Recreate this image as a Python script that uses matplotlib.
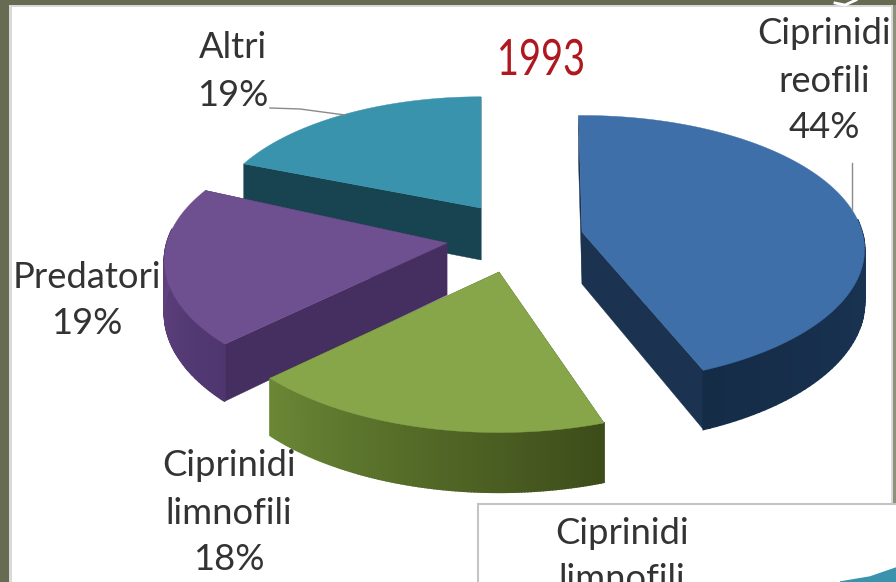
import numpy as np
import matplotlib
matplotlib.use("Agg")
import matplotlib.pyplot as plt
import matplotlib.patheffects as pe
from matplotlib.patches import Polygon, Rectangle
from matplotlib.colors import to_rgb
from matplotlib.transforms import Affine2D

# ---- data ----
categories = ["Ciprinidi\nreofili", "Ciprinidi\nlimnofili", "Predatori", "Altri"]
shares = [44, 18, 19, 19]
title = "1993"

# ---- style ----
top_colors = ["#3f6fa8", "#86a649", "#6e4f8f", "#3a93ad"]
radial_colors = ["#1b3350", "#3f5020", "#452f60", "#184452"]
rim_start = ["#1f4066", "#3d4c1a", "#4f366f", "#1f5566"]
rim_end = ["#152c47", "#6a8735", "#674888", "#1f5566"]
apex = [(582, 232), (499, 272), (447, 243), (481, 208)]
turn_deg = [-0.8, 3.0, 3.0, 0.0]
scale_x = [0.99, 1.02, 0.99, 0.945]
scale_y = [0.99, 1.05, 1.0, 0.945]
A, B, K, D = 283.0, 133.0, 0.13, 52.0
BG = "#666b52"


class XSqueeze(pe.AbstractPathEffect):
    """Squeeze a text horizontally about a pixel column."""

    def __init__(self, cx, factor):
        super().__init__()
        self.cx, self.factor = cx, factor

    def draw_path(self, renderer, gc, tpath, affine, rgbFace=None):
        aff = affine + Affine2D().translate(-self.cx, 0).scale(self.factor, 1).translate(self.cx, 0)
        renderer.draw_path(gc, tpath, aff, rgbFace)


fig = plt.figure(figsize=(8.96, 5.82), dpi=100, facecolor=BG)
ax = fig.add_axes([0, 0, 1, 1])
ax.set_xlim(0, 896)
ax.set_ylim(582, 0)
ax.axis("off")

# frame and panels
ax.add_patch(Rectangle((0, 0), 896, 582, fc=BG, ec="none", zorder=0))
ax.add_patch(Rectangle((9, 5), 884, 590, fc="#d9d9d9", ec="none", zorder=1))
ax.add_patch(Rectangle((12, 7), 879, 590, fc="white", ec="none", zorder=1))
ax.add_patch(Rectangle((893, 5), 3, 577, fc="#8d907c", ec="none", zorder=1))


def proj(i, th):
    ap = apex[i]
    x, y = np.sin(th), -np.cos(th)
    w = 1 / (1 - K * y)
    return ap[0] + A * scale_x[i] * x * w, ap[1] + B * scale_y[i] * y * w, w


fr = np.cumsum([0] + shares) / sum(shares) * 2 * np.pi
order = [3, 2, 0, 1]
for z, i in enumerate(order):
    ap = apex[i]
    th = np.linspace(fr[i], fr[i + 1], 120) + np.deg2rad(turn_deg[i])
    sx, sy, w = proj(i, th)
    base = 3 + z * 0.1
    # radial faces
    for j in (0, -1):
        ax.add_patch(Polygon([(ap[0], ap[1]), (sx[j], sy[j]),
                              (sx[j], sy[j] + D * w[j]), (ap[0], ap[1] + D)],
                             fc=radial_colors[i], ec=radial_colors[i], lw=0.3, zorder=base))
    # outer rim, shaded segment by segment
    c0, c1 = np.array(to_rgb(rim_start[i])), np.array(to_rgb(rim_end[i]))
    for k in range(len(th) - 1):
        if np.cos(th[k]) > 0.1:
            continue
        t = k / (len(th) - 2)
        col = c0 + (c1 - c0) * t
        ax.add_patch(Polygon([(sx[k], sy[k]), (sx[k + 1], sy[k + 1]),
                              (sx[k + 1], sy[k + 1] + D * w[k + 1]), (sx[k], sy[k] + D * w[k])],
                             fc=col, ec=col, lw=1.2, zorder=base + 0.01))
    # top face
    ax.add_patch(Polygon(np.column_stack([np.r_[ap[0], sx], np.r_[ap[1], sy]]),
                         fc=top_colors[i], ec=top_colors[i], lw=0.3, zorder=base + 0.02))

# leader lines
ax.plot([270, 300, 345], [108, 109, 115], color="#8a8a8a", lw=1, zorder=5)
ax.plot([852, 852], [163, 210], color="#8a8a8a", lw=1, zorder=5)

# labels
FONT = "Lato"
TC = "#333333"
FS = 26.2


def lab(x, ys, lines):
    for y, s in zip(ys, lines):
        ax.text(x, y, s, ha="center", va="center", fontsize=FS, family=FONT, color=TC, zorder=6)


lab(824, [33, 81, 128], categories[0].split("\n") + [f"{shares[0]}%"])
lab(229, [466, 513, 560], categories[1].split("\n") + [f"{shares[1]}%"])
lab(87, [277, 323], [categories[2], f"{shares[2]}%"])
lab(233, [48, 96], [categories[3], f"{shares[3]}%"])
ax.text(541, 61, title, ha="center", va="center", fontsize=36, color="#b01820",
        family="Lato", zorder=6, path_effects=[XSqueeze(541, 0.76)])

# second chart, cut off by the lower edge
ax.add_patch(Rectangle((478, 504), 430, 90, fc="white", ec="#c4c4c4", lw=1.5, zorder=7))
ax.text(622, 533, "Ciprinidi", ha="center", va="center", fontsize=FS, family=FONT, color=TC, zorder=8)
ax.text(622, 580, "limnofili", ha="center", va="center", fontsize=FS, family=FONT, color=TC, zorder=8, clip_on=True)
ax.fill([840, 870, 896, 896], [582, 577, 568, 582], color="#3a93ad", zorder=8)
ax.plot([835, 845, 856], [3, 5, 0], color="white", lw=2, zorder=8)

fig.savefig("out.png", dpi=100, facecolor=BG)
